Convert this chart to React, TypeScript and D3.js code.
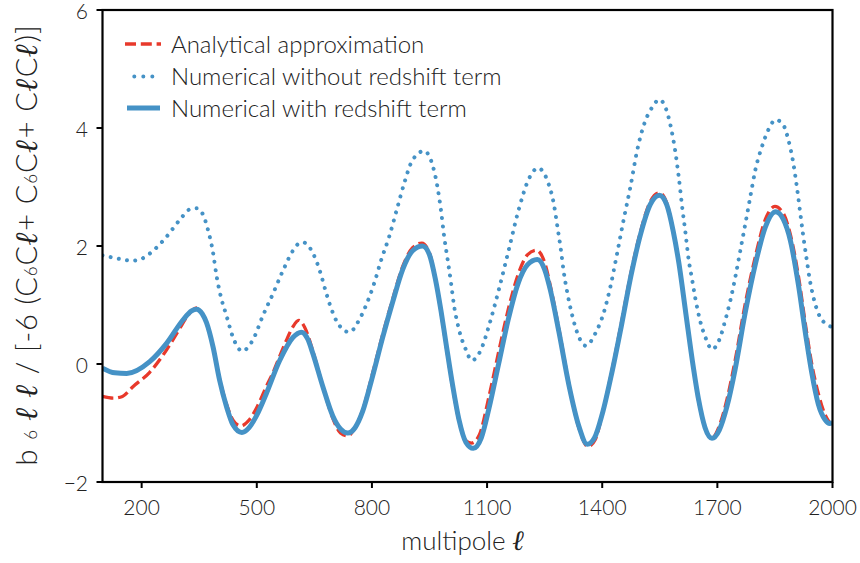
import React from 'react';
import * as d3 from 'd3';

const xTicks = [200, 500, 800, 1100, 1400, 1700, 2000];
const yTicks = [-2, 0, 2, 4, 6];
const legendLabels = ['Analytical approximation', 'Numerical without redshift term', 'Numerical with redshift term'];

// Analytical approximation (red dashed)
const analytical: [number, number][] = [
  [98, -0.55], [126, -0.58], [150, -0.55], [178, -0.38], [221, -0.14], [265, 0.24], [299, 0.6], [320, 0.82], [343, 0.95],
  [358, 0.85], [369, 0.7], [386, 0.29], [403, -0.25], [421, -0.68], [438, -0.95], [458, -1.05], [480, -0.95], [499, -0.75],
  [525, -0.38], [542, -0.15], [559, 0.12], [577, 0.4], [594, 0.63], [609, 0.74], [625, 0.62], [646, 0.22], [672, -0.38],
  [698, -0.92], [718, -1.17], [737, -1.22], [756, -1.08], [776, -0.78], [802, -0.15], [828, 0.5], [854, 1.1], [880, 1.65],
  [906, 1.97], [930, 2.05], [950, 1.88], [965, 1.45], [980, 0.88], [993, 0.32], [1010, -0.38], [1027, -0.97], [1045, -1.3],
  [1060, -1.34], [1080, -1.2], [1105, -0.55], [1130, 0.2], [1155, 0.92], [1180, 1.5], [1205, 1.85], [1228, 1.93], [1250, 1.72],
  [1265, 1.32], [1287, 0.6], [1313, -0.33], [1339, -1.08], [1363, -1.4], [1382, -1.28], [1400, -0.85], [1425, -0.12],
  [1450, 0.7], [1475, 1.55], [1500, 2.25], [1525, 2.75], [1549, 2.9], [1568, 2.73], [1585, 2.25], [1600, 1.7], [1618, 0.85],
  [1635, 0.05], [1651, -0.62], [1668, -1.08], [1686, -1.25], [1705, -1.05], [1725, -0.6], [1746, 0.05], [1772, 1.0],
  [1800, 1.85], [1825, 2.45], [1850, 2.67], [1872, 2.55], [1890, 2.2], [1911, 1.5], [1930, 0.65], [1946, 0.0], [1963, -0.5],
  [1980, -0.85], [1993, -1.0], [2000, -1.06],
];

// Numerical without redshift term (blue dotted)
const withoutRedshift: [number, number][] = [
  [98, 1.84], [113, 1.82], [135, 1.79], [176, 1.75], [195, 1.77], [230, 1.92], [260, 2.12], [299, 2.44], [325, 2.62],
  [344, 2.64], [360, 2.53], [373, 2.27], [386, 1.89], [395, 1.5], [408, 1.1], [421, 0.82], [438, 0.45], [462, 0.22],
  [490, 0.41], [516, 0.82], [542, 1.19], [568, 1.58], [594, 1.92], [607, 2.03], [622, 2.06], [637, 1.98], [655, 1.75],
  [668, 1.5], [681, 1.2], [694, 0.94], [711, 0.69], [741, 0.54], [767, 0.75], [785, 1.0], [806, 1.37], [824, 1.76],
  [845, 2.16], [867, 2.67], [884, 3.06], [906, 3.46], [936, 3.61], [958, 3.37], [971, 2.99], [980, 2.6], [988, 2.17],
  [997, 1.78], [1006, 1.38], [1014, 0.99], [1027, 0.58], [1045, 0.24], [1060, 0.06], [1084, 0.24], [1105, 0.65],
  [1131, 1.27], [1157, 1.95], [1183, 2.63], [1209, 3.14], [1233, 3.32], [1257, 3.11], [1274, 2.71], [1283, 2.34],
  [1292, 1.95], [1300, 1.55], [1309, 1.21], [1322, 0.82], [1335, 0.53], [1357, 0.31], [1383, 0.53], [1404, 0.87],
  [1422, 1.33], [1439, 1.88], [1456, 2.45], [1474, 3.02], [1491, 3.62], [1508, 4.04], [1530, 4.35], [1549, 4.48],
  [1569, 4.27], [1580, 3.98], [1590, 3.62], [1599, 3.19], [1608, 2.68], [1617, 2.22], [1625, 1.78], [1634, 1.44],
  [1643, 1.1], [1656, 0.71], [1669, 0.45], [1686, 0.25], [1708, 0.46], [1721, 0.75], [1734, 1.08], [1747, 1.48],
  [1760, 1.93], [1773, 2.38], [1786, 2.84], [1799, 3.29], [1816, 3.68], [1833, 3.97], [1852, 4.14], [1872, 4.05],
  [1885, 3.8], [1898, 3.4], [1907, 3.01], [1915, 2.61], [1924, 2.16], [1933, 1.76], [1941, 1.42], [1950, 1.14],
  [1963, 0.86], [1976, 0.72], [1989, 0.65], [2000, 0.63],
];

// Numerical with redshift term (blue solid)
const withRedshift: [number, number][] = [
  [98, -0.07], [130, -0.15], [161, -0.16], [221, 0.04], [265, 0.35], [308, 0.75], [330, 0.9], [343, 0.93], [358, 0.85],
  [369, 0.7], [386, 0.29], [403, -0.27], [421, -0.72], [438, -1.03], [461, -1.16], [480, -1.08], [499, -0.88],
  [525, -0.5], [559, 0.05], [594, 0.45], [616, 0.54], [633, 0.42], [646, 0.18], [672, -0.38], [698, -0.88], [718, -1.1],
  [737, -1.17], [756, -1.08], [776, -0.8], [802, -0.2], [828, 0.45], [854, 1.05], [880, 1.6], [906, 1.92], [932, 2.0],
  [950, 1.85], [965, 1.45], [980, 0.9], [993, 0.35], [1010, -0.35], [1027, -0.95], [1045, -1.33], [1064, -1.43],
  [1085, -1.25], [1105, -0.75], [1130, 0.0], [1155, 0.75], [1180, 1.35], [1205, 1.68], [1231, 1.77], [1250, 1.6],
  [1265, 1.25], [1287, 0.55], [1313, -0.35], [1339, -1.05], [1361, -1.36], [1380, -1.25], [1400, -0.85], [1425, -0.15],
  [1450, 0.65], [1475, 1.5], [1500, 2.2], [1525, 2.7], [1549, 2.86], [1568, 2.7], [1585, 2.25], [1600, 1.7], [1618, 0.85],
  [1635, 0.05], [1651, -0.6], [1668, -1.08], [1686, -1.26], [1705, -1.12], [1725, -0.72], [1746, -0.1], [1772, 0.85],
  [1800, 1.72], [1825, 2.32], [1852, 2.58], [1872, 2.45], [1890, 2.1], [1911, 1.35], [1930, 0.5], [1946, -0.15],
  [1963, -0.68], [1980, -0.94], [1993, -1.01], [2000, -0.99],
];

const BLUE = '#4592c6';
const RED = '#e8392b';
const FONT = 'Lato, "Open Sans", sans-serif';

export default function App() {
  const W = 860, H = 563;
  const left = 102.5, right = 832.5, top = 10, bottom = 482;
  const x = d3.scaleLinear().domain([98, 2000]).range([left, right]);
  const y = d3.scaleLinear().domain([-2, 6]).range([bottom, top]);
  const line = d3.line<[number, number]>().x(d => x(d[0])).y(d => y(d[1])).curve(d3.curveMonotoneX);

  const ell = (k: string, size?: number) => (
    <tspan key={k} fontStyle="italic" fontWeight={700} fontFamily='"DejaVu Serif", serif' fontSize={size}>ℓ</tspan>
  );
  const six = (k: string) => (
    <tspan key={k} fontSize={17}>6</tspan>
  );

  return (
    <svg width={W} height={H} style={{ position: 'absolute', left: 0, top: 0, background: '#fff' }} fontFamily={FONT}>
      <rect x={0} y={0} width={W} height={H} fill="#fff" />
      <defs>
        <clipPath id="plotclip">
          <rect x={left} y={top} width={right - left} height={bottom - top} />
        </clipPath>
      </defs>
      <g clipPath="url(#plotclip)">
        <path d={line(analytical) || ''} fill="none" stroke={RED} strokeWidth={3.3} strokeDasharray="11 4.8" />
        <path d={line(withoutRedshift) || ''} fill="none" stroke={BLUE} strokeWidth={4} strokeDasharray="0.01 8.3" strokeLinecap="round" />
        <path d={line(withRedshift) || ''} fill="none" stroke={BLUE} strokeWidth={5} strokeLinejoin="round" />
      </g>
      {/* spines */}
      <rect x={left} y={top} width={right - left} height={bottom - top} fill="none" stroke="#000" strokeWidth={2.2} />
      {/* x ticks */}
      {xTicks.map(t => (
        <g key={'x' + t}>
          <line x1={x(t)} x2={x(t)} y1={bottom} y2={bottom + 6} stroke="#000" strokeWidth={2} />
          <text x={x(t)} y={515} textAnchor="middle" fontSize={21} fontWeight={300} fill="#222">{t}</text>
        </g>
      ))}
      {/* y ticks */}
      {yTicks.map(t => (
        <g key={'y' + t}>
          <line x1={left} x2={left - 6} y1={y(t)} y2={y(t)} stroke="#000" strokeWidth={2} />
          <text x={88} y={y(t) + 9} textAnchor="end" fontSize={21} fontWeight={300} fill="#222">{t < 0 ? '\u2212' + Math.abs(t) : t}</text>
        </g>
      ))}
      {/* x label */}
      <text x={463} y={550} textAnchor="middle" fontSize={26} fontWeight={300} fill="#222">
        multipole {ell('xl', 28)}
      </text>
      {/* y label */}
      <text transform="translate(37,245) rotate(-90)" textAnchor="middle" fontSize={29} fontWeight={300} fill="#222" letterSpacing={0.9}>
        b {six('s1')} {ell('a', 31)} {ell('b', 31)} / [-6 (C{six('s2')}C{ell('c', 31)}+ C{six('s3')}C{ell('d', 31)}+ C{ell('e', 31)}C{ell('f', 31)})]
      </text>
      {/* legend */}
      <g>
        <line x1={125} x2={161} y1={44} y2={44} stroke={RED} strokeWidth={3.3} strokeDasharray="11 4.8" />
        <line x1={134.3} x2={152.4} y1={76.5} y2={76.5} stroke={BLUE} strokeWidth={4} strokeDasharray="0.01 9" strokeLinecap="round" />
        <line x1={127} x2={160} y1={108} y2={108} stroke={BLUE} strokeWidth={5} />
        {legendLabels.map((lab, i) => (
          <text key={lab} x={171} y={53.3 + i * 31.7} fontSize={24} fontWeight={300} fill="#222">{lab}</text>
        ))}
      </g>
    </svg>
  );
}
